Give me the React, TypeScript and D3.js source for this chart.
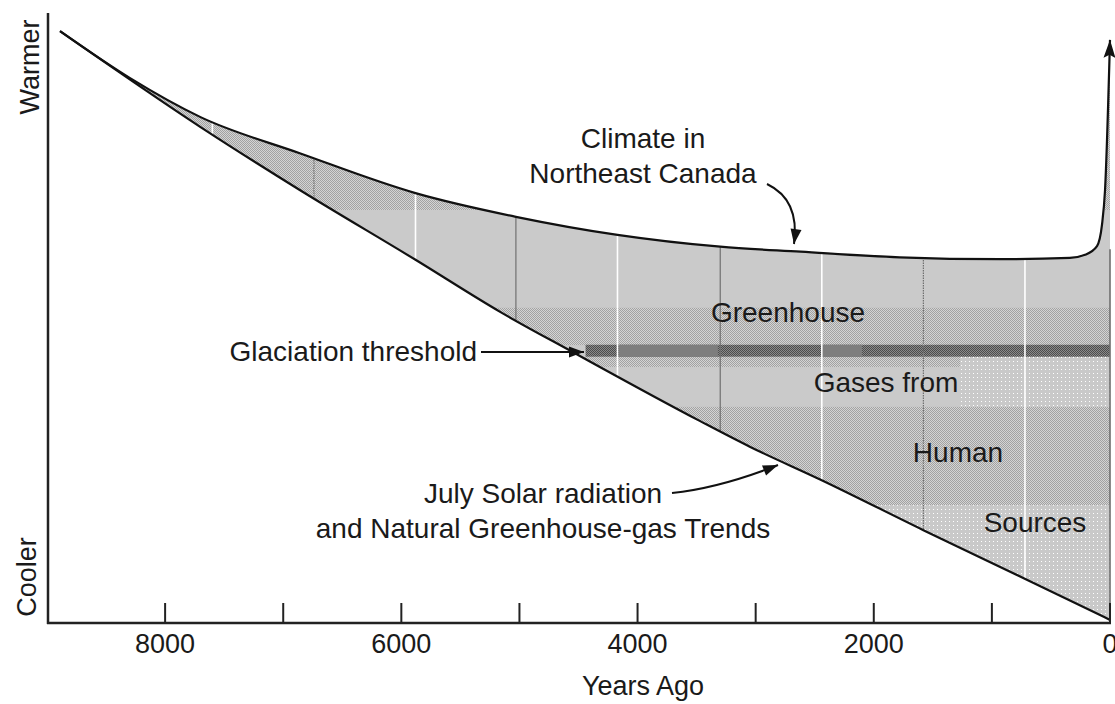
import React from 'react';
import * as d3 from 'd3';

// Years ago / relative temperature index (0 = cool bottom, 100 = warm top)
const naturalYears = [8890, 7700, 6860, 5880, 5160, 4550, 3470, 3050, 2450, 1580, 700, 0];
const naturalValues = [95, 79.6, 69.5, 58.3, 49.9, 43.5, 32.4, 28.3, 23.0, 14.9, 6.9, 0.5];
const climateYears = [8890, 8300, 7700, 6860, 5880, 5030, 4170, 3300, 2620, 1780, 930, 340, 212, 110, 68, 42, 0];
const climateValues = [95, 87.5, 81.2, 75.4, 69.0, 65.2, 62.3, 60.4, 59.6, 58.7, 58.4, 58.6, 59.1, 60.5, 63.9, 69.5, 93.6];
const majorTicks = [8000, 6000, 4000, 2000, 0];
const minorTicks = [7000, 5000, 3000, 1000];
const dividerYears = [7600, 6740, 5880, 5030, 4170, 3300, 2440, 1580, 720];
const glaciationThreshold = 43.7;
const thresholdStartYear = 4440;
// texture bands in value units
const bandFrom = [66.3, 44.6, 41.1, 18.9, 0];
const bandTo = [100, 50.6, 42.7, 34.7, 18.9];
const bandKind = ['checker', 'checker', 'checker', 'checker', 'dots'];
const dotPatchYears = [1270, 0];
const dotPatchValues = [34.7, 42.7];
const lightThresholdYears = [[4160, 3320], [2440, 2100]];

const FONT = '"Liberation Sans", Arial, Helvetica, sans-serif';

export default function App() {
  const W = 1115;
  const H = 704;
  const x = d3.scaleLinear().domain([9000, 0]).range([47, 1110]);
  const y = d3.scaleLinear().domain([0, 100]).range([623, 0]);

  const natural = naturalYears.map((yr, i) => [yr, naturalValues[i]] as [number, number]);
  const climate = climateYears.map((yr, i) => [yr, climateValues[i]] as [number, number]);

  const line = d3
    .line<[number, number]>()
    .x((d) => x(d[0]))
    .y((d) => y(d[1]))
    .curve(d3.curveMonotoneX);

  const lowerPath = line(natural) || '';
  const upperPath = line(climate) || '';
  const x0 = x(naturalYears[0]);
  const xEnd = x(0);
  const underUpper = `${upperPath}L${xEnd},${y(0)}L${x0},${y(0)}Z`;
  const aboveLower = `${lowerPath}L${xEnd},0L${x0},0Z`;

  const ty = y(glaciationThreshold);

  const textStyle: React.CSSProperties = { fontFamily: FONT, fontSize: 28, fill: '#1a1a1a' };
  const axisText: React.CSSProperties = { fontFamily: FONT, fontSize: 27, fill: '#1a1a1a' };

  return (
    <svg
      width={W}
      height={H}
      style={{ position: 'absolute', left: 0, top: 0, background: '#fff' }}
    >
      <defs>
        <pattern id="checker" width="2" height="2" patternUnits="userSpaceOnUse">
          <rect width="2" height="2" fill="#d4d4d4" />
          <rect x="0" y="0" width="1" height="1" fill="#a2a2a2" />
          <rect x="1" y="1" width="1" height="1" fill="#a2a2a2" />
        </pattern>
        <pattern id="dots" width="4" height="4" patternUnits="userSpaceOnUse">
          <rect width="4" height="4" fill="#c9c9c9" />
          <rect x="1" y="1" width="1" height="1" fill="#ffffff" />
        </pattern>
        <pattern id="darkChecker" width="2" height="2" patternUnits="userSpaceOnUse">
          <rect width="2" height="2" fill="#8a8a8a" />
          <rect x="0" y="0" width="1" height="1" fill="#4c4c4c" />
          <rect x="1" y="1" width="1" height="1" fill="#4c4c4c" />
        </pattern>
        <clipPath id="underUpper">
          <path d={underUpper} />
        </clipPath>
        <clipPath id="aboveLower">
          <path d={aboveLower} />
        </clipPath>
        <marker
          id="arrow"
          markerUnits="userSpaceOnUse"
          markerWidth="18"
          markerHeight="14"
          viewBox="-17 -7 18 14"
          refX="0"
          refY="0"
          orient="auto"
        >
          <path d="M0,0 L-15,-5.5 L-15,5.5 Z" fill="#111" />
        </marker>
        <marker
          id="bigArrow"
          markerUnits="userSpaceOnUse"
          markerWidth="22"
          markerHeight="16"
          viewBox="-20 -8 22 16"
          refX="0"
          refY="0"
          orient="auto"
        >
          <path d="M0,0 L-18,-6 L-15,0 L-18,6 Z" fill="#111" />
        </marker>
      </defs>

      {/* shaded region between curves */}
      <g clipPath="url(#aboveLower)">
        <g clipPath="url(#underUpper)">
          <rect x={x0} y={0} width={xEnd - x0} height={y(0)} fill="#cacaca" />
          {bandFrom.map((f, i) => (
            <rect
              key={i}
              x={x0}
              y={y(bandTo[i])}
              width={xEnd - x0}
              height={y(f) - y(bandTo[i])}
              fill={`url(#${bandKind[i]})`}
            />
          ))}
          <rect
            x={x(dotPatchYears[0])}
            y={y(dotPatchValues[1])}
            width={x(dotPatchYears[1]) - x(dotPatchYears[0])}
            height={y(dotPatchValues[0]) - y(dotPatchValues[1])}
            fill="url(#dots)"
          />
          <rect
            x={x(thresholdStartYear)}
            y={ty - 6}
            width={xEnd - x(thresholdStartYear)}
            height={12}
            fill="url(#darkChecker)"
          />
          {lightThresholdYears.map((s, i) => (
            <rect key={i} x={x(s[0])} y={ty - 6} width={x(s[1]) - x(s[0])} height={12} fill="#7e7e7e" />
          ))}
          {dividerYears.map((yr, i) => (
            <line
              key={yr}
              x1={x(yr)}
              x2={x(yr)}
              y1={0}
              y2={y(0)}
              stroke={i % 2 === 0 ? '#ffffff' : '#707070'}
              strokeWidth={i % 2 === 0 ? 1.6 : 1.2}
              strokeDasharray={i % 2 === 0 ? undefined : i === 1 || i === 7 ? '1.5,1' : undefined}
            />
          ))}
        </g>
      </g>

      {/* right edge of shading */}
      <line x1={xEnd} x2={xEnd} y1={y(60)} y2={y(0)} stroke="#6e6e6e" strokeWidth={1.6} />

      {/* curves */}
      <path d={lowerPath} fill="none" stroke="#111" strokeWidth={2.2} />
      <path d={upperPath} fill="none" stroke="#111" strokeWidth={2.2} markerEnd="url(#bigArrow)" />

      {/* axes */}
      <line x1={48} x2={48} y1={13} y2={624} stroke="#222" strokeWidth={2.5} />
      <line x1={47} x2={xEnd + 1} y1={623} y2={623} stroke="#222" strokeWidth={2.5} />
      {[...majorTicks, ...minorTicks].map((t) => (
        <line key={t} x1={x(t)} x2={x(t)} y1={603} y2={623} stroke="#222" strokeWidth={2} />
      ))}
      {majorTicks.map((t) => (
        <text key={t} x={x(t)} y={653} textAnchor="middle" style={axisText}>
          {t}
        </text>
      ))}
      <text x={643} y={695} textAnchor="middle" style={axisText}>
        Years Ago
      </text>
      <text transform="translate(39,67) rotate(-90)" textAnchor="middle" style={axisText}>
        Warmer
      </text>
      <text transform="translate(36,577) rotate(-90)" textAnchor="middle" style={axisText}>
        Cooler
      </text>

      {/* annotations */}
      <text x={643} y={148} textAnchor="middle" style={textStyle}>
        Climate in
      </text>
      <text x={643} y={183} textAnchor="middle" style={textStyle}>
        Northeast Canada
      </text>
      <path d="M767,184 C790,195 798,215 794,244" fill="none" stroke="#111" strokeWidth={2} markerEnd="url(#arrow)" />

      <text x={477} y={361} textAnchor="end" style={textStyle}>
        Glaciation threshold
      </text>
      <line x1={481} x2={584} y1={352} y2={352} stroke="#111" strokeWidth={2} markerEnd="url(#arrow)" />

      <text x={788} y={322} textAnchor="middle" style={textStyle}>
        Greenhouse
      </text>
      <text x={886} y={392} textAnchor="middle" style={textStyle}>
        Gases from
      </text>
      <text x={958} y={462} textAnchor="middle" style={textStyle}>
        Human
      </text>
      <text x={1035} y={532} textAnchor="middle" style={textStyle}>
        Sources
      </text>

      <text x={543} y={503} textAnchor="middle" style={textStyle}>
        July Solar radiation
      </text>
      <text x={543} y={538} textAnchor="middle" style={textStyle}>
        and Natural Greenhouse-gas Trends
      </text>
      <path d="M672,493 C710,489 745,478 778,465" fill="none" stroke="#111" strokeWidth={2} markerEnd="url(#arrow)" />
    </svg>
  );
}
